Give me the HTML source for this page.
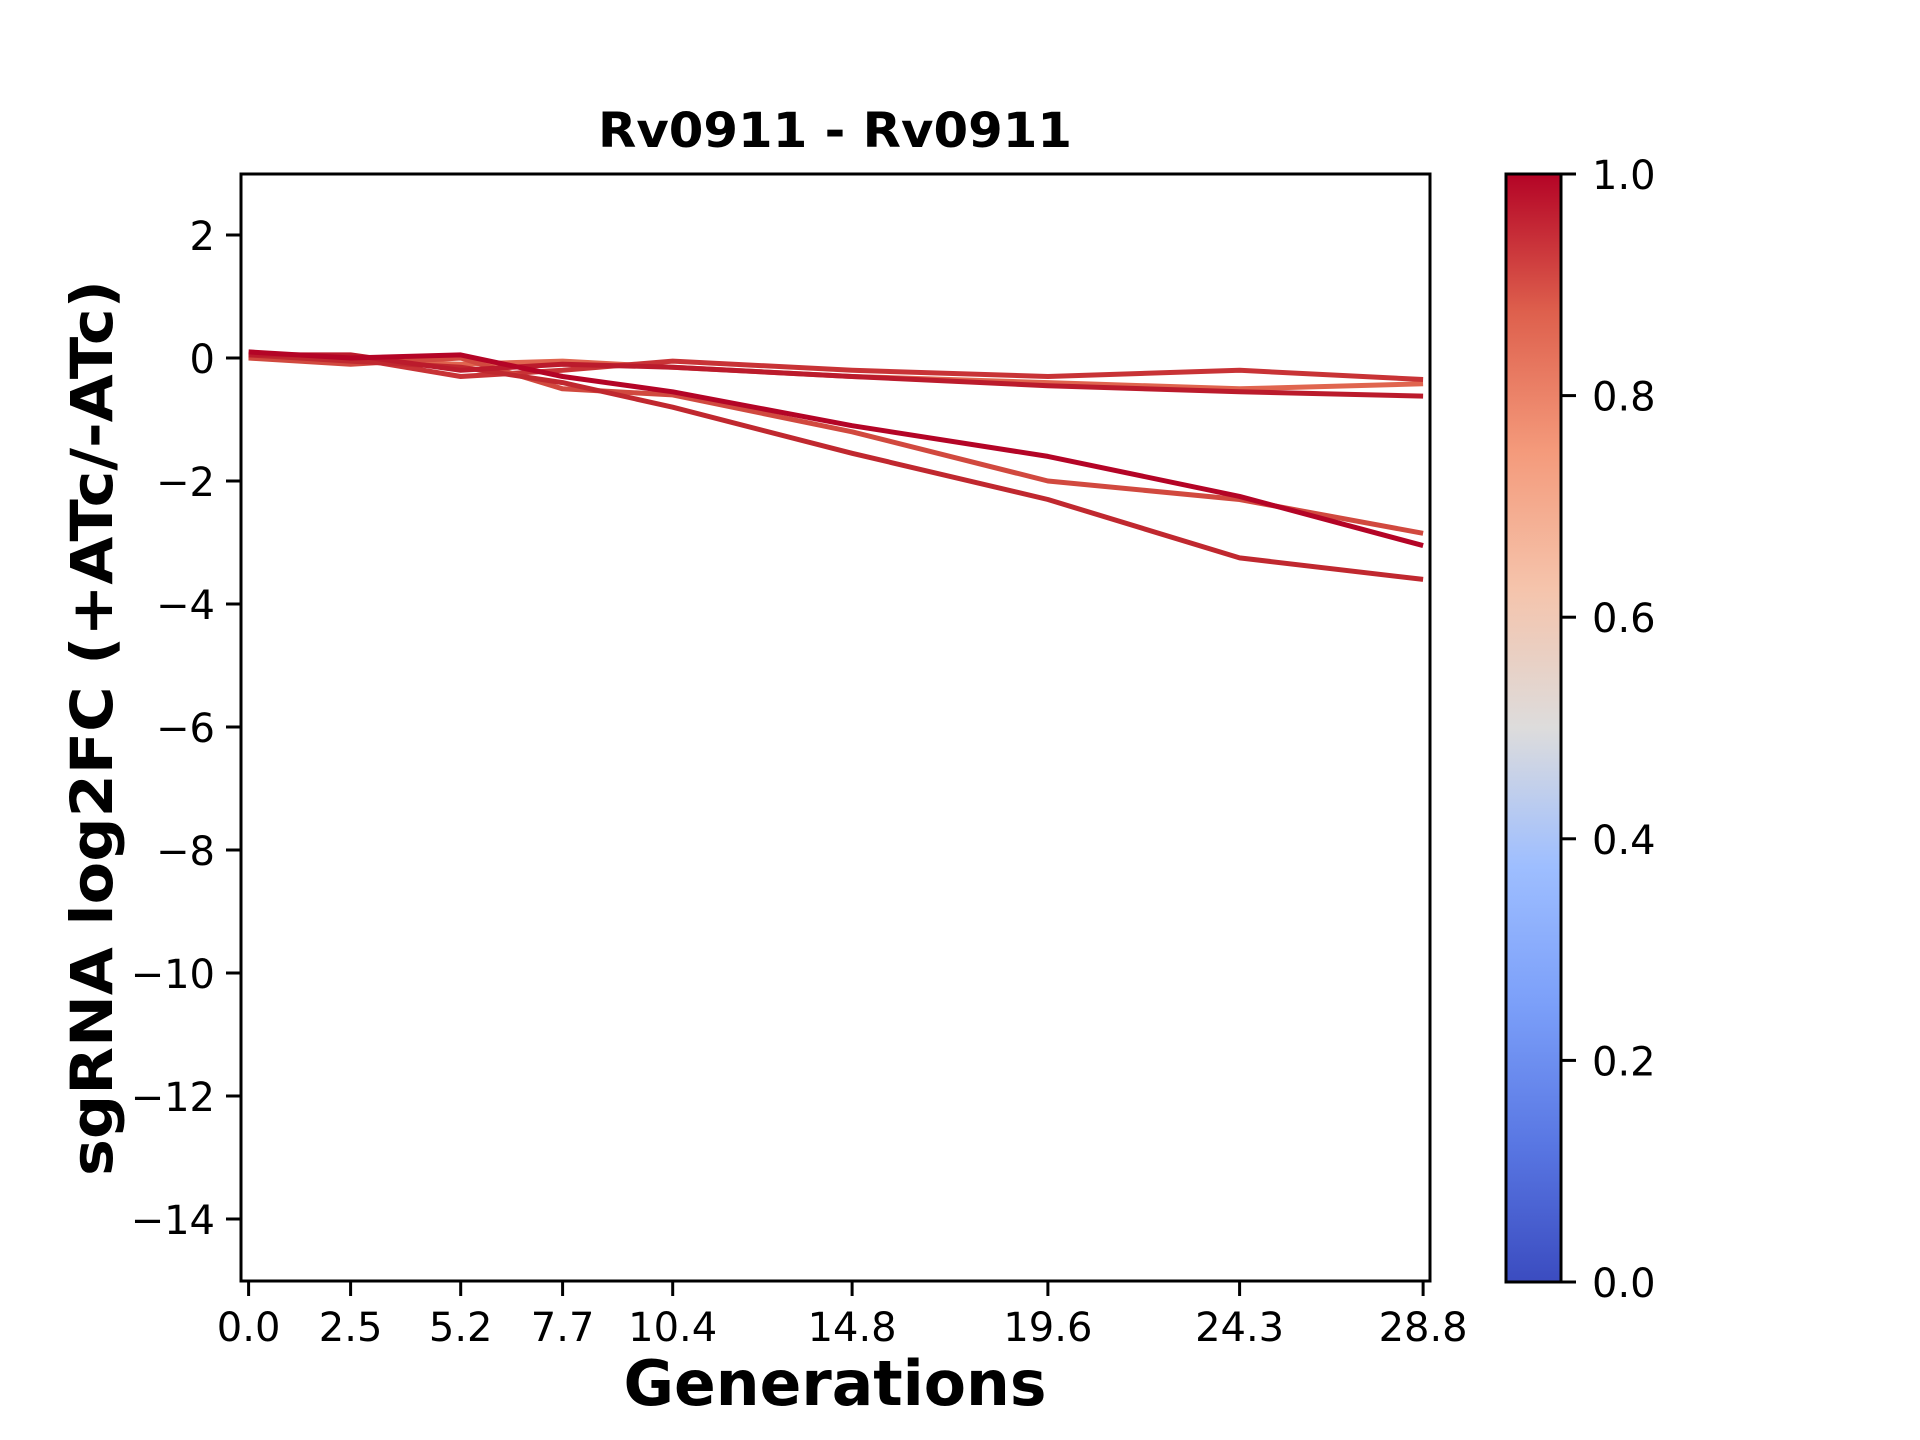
<!DOCTYPE html>
<html><head><meta charset="utf-8"><style>html,body{margin:0;padding:0;background:#fff}svg{display:block}</style></head>
<body>
<svg width="1920" height="1440" viewBox="0 0 1920 1440" xmlns="http://www.w3.org/2000/svg" font-family="DejaVu Sans, Liberation Sans, sans-serif">
<defs>
<linearGradient id="cw" x1="0" y1="1" x2="0" y2="0">
<stop offset="0" stop-color="#3b4cc0"/><stop offset="0.125" stop-color="#5977e3"/><stop offset="0.25" stop-color="#7b9ff9"/><stop offset="0.375" stop-color="#9ebeff"/><stop offset="0.5" stop-color="#dddcdc"/><stop offset="0.625" stop-color="#f5c4ac"/><stop offset="0.75" stop-color="#f49a7b"/><stop offset="0.875" stop-color="#de604d"/><stop offset="1" stop-color="#b40426"/>
</linearGradient>
<clipPath id="ax"><rect x="241" y="174" width="1189" height="1107"/></clipPath>
</defs>
<g clip-path="url(#ax)" fill="none" stroke-width="5" stroke-linejoin="round">
<polyline stroke="#e0654f" points="248.6,358 350.6,361.1 460.7,364.2 562.6,361.1 672.7,367.2 852.1,376.5 1047.9,382.6 1239.6,388.8 1423.1,383.8"/>
<polyline stroke="#c83336" points="248.6,358 350.6,358 460.7,376.5 562.6,370.3 672.7,361.1 852.1,370.3 1047.9,376.5 1239.6,370.3 1423.1,379.5"/>
<polyline stroke="#d1493f" points="248.6,358 350.6,364.2 460.7,358 562.6,388.8 672.7,394.9 852.1,431.8 1047.9,481 1239.6,499.5 1423.1,533.3"/>
<polyline stroke="#c0282f" points="248.6,354.9 350.6,361.1 460.7,367.2 562.6,382.6 672.7,407.2 852.1,453.3 1047.9,499.5 1239.6,557.9 1423.1,579.4"/>
<polyline stroke="#bb1b2c" points="248.6,354.9 350.6,354.9 460.7,370.3 562.6,364.2 672.7,367.2 852.1,376.5 1047.9,385.7 1239.6,391.8 1423.1,396.1"/>
<polyline stroke="#b40426" points="248.6,351.9 350.6,358 460.7,354.9 562.6,376.5 672.7,391.8 852.1,425.7 1047.9,456.4 1239.6,496.4 1423.1,545.6"/>
</g>
<rect x="241" y="174" width="1189" height="1107" fill="none" stroke="#000" stroke-width="3"/>
<g stroke="#000" stroke-width="3">
<line x1="248.6" y1="1281" x2="248.6" y2="1296"/><line x1="350.6" y1="1281" x2="350.6" y2="1296"/><line x1="460.7" y1="1281" x2="460.7" y2="1296"/><line x1="562.6" y1="1281" x2="562.6" y2="1296"/><line x1="672.7" y1="1281" x2="672.7" y2="1296"/><line x1="852.1" y1="1281" x2="852.1" y2="1296"/><line x1="1047.9" y1="1281" x2="1047.9" y2="1296"/><line x1="1239.6" y1="1281" x2="1239.6" y2="1296"/><line x1="1423.1" y1="1281" x2="1423.1" y2="1296"/>
<line x1="226" y1="235" x2="241" y2="235"/><line x1="226" y1="358" x2="241" y2="358"/><line x1="226" y1="481" x2="241" y2="481"/><line x1="226" y1="604" x2="241" y2="604"/><line x1="226" y1="727" x2="241" y2="727"/><line x1="226" y1="850" x2="241" y2="850"/><line x1="226" y1="973" x2="241" y2="973"/><line x1="226" y1="1096" x2="241" y2="1096"/><line x1="226" y1="1219" x2="241" y2="1219"/>
</g>
<g font-size="40" text-anchor="middle" fill="#000">
<text x="248.6" y="1341">0.0</text><text x="350.6" y="1341">2.5</text><text x="460.7" y="1341">5.2</text><text x="562.6" y="1341">7.7</text><text x="672.7" y="1341">10.4</text><text x="852.1" y="1341">14.8</text><text x="1047.9" y="1341">19.6</text><text x="1239.6" y="1341">24.3</text><text x="1423.1" y="1341">28.8</text>
</g>
<g font-size="40" text-anchor="end" fill="#000">
<text x="215" y="250">2</text><text x="215" y="373">0</text><text x="215" y="496">−2</text><text x="215" y="619">−4</text><text x="215" y="742">−6</text><text x="215" y="865">−8</text><text x="215" y="988">−10</text><text x="215" y="1111">−12</text><text x="215" y="1234">−14</text>
</g>
<text x="835" y="147" font-size="48" font-weight="bold" text-anchor="middle" textLength="474" lengthAdjust="spacingAndGlyphs">Rv0911 - Rv0911</text>
<text x="835" y="1405" font-size="62" font-weight="bold" text-anchor="middle" textLength="423" lengthAdjust="spacingAndGlyphs">Generations</text>
<text transform="translate(112,728) rotate(-90)" font-size="58" font-weight="bold" text-anchor="middle" textLength="896" lengthAdjust="spacingAndGlyphs">sgRNA log2FC (+ATc/-ATc)</text>
<rect x="1506" y="174" width="55" height="1108" fill="url(#cw)" stroke="#000" stroke-width="3"/>
<g stroke="#000" stroke-width="3">
<line x1="1561" y1="174" x2="1576" y2="174"/><line x1="1561" y1="395.6" x2="1576" y2="395.6"/><line x1="1561" y1="617.2" x2="1576" y2="617.2"/><line x1="1561" y1="838.8" x2="1576" y2="838.8"/><line x1="1561" y1="1060.4" x2="1576" y2="1060.4"/><line x1="1561" y1="1282" x2="1576" y2="1282"/>
</g>
<g font-size="40" fill="#000">
<text x="1592" y="189">1.0</text><text x="1592" y="410.6">0.8</text><text x="1592" y="632.2">0.6</text><text x="1592" y="853.8">0.4</text><text x="1592" y="1075.4">0.2</text><text x="1592" y="1297">0.0</text>
</g>
</svg>
</body></html>
